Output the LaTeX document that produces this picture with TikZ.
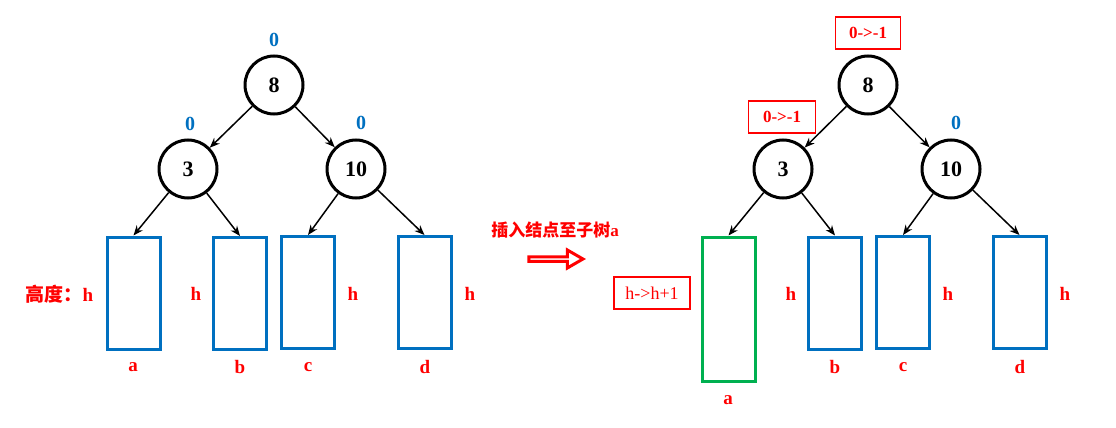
\documentclass[tikz,border=0pt]{standalone}
\usepackage{fontspec}
\setmainfont{Liberation Serif}
\newfontfamily\cjk{Noto Sans CJK SC}
\usepackage{xcolor}
\usetikzlibrary{arrows.meta,shapes.arrows}
\definecolor{boxblue}{HTML}{0070C0}
\definecolor{boxgreen}{HTML}{00B050}

\begin{document}
\begin{tikzpicture}[x=1pt,y=-1pt,%
% common options for the tree nodes:
ball/.style = {circle, draw, line width=3pt, minimum size=58pt, inner sep=0,
            font=\fontsize{22}{24}\selectfont\bfseries},
% common options for the subtrees:
block/.style = {draw=boxblue, line width=3pt, minimum width=53pt,
            minimum height=112pt, inner sep=0},
% labels:
bal/.style = {text=boxblue, font=\fontsize{20}{22}\selectfont\bfseries},
hgt/.style = {text=red, font=\fontsize{19}{21}\selectfont\bfseries},
tag/.style = {draw=red, line width=1.2pt, text=red, inner sep=0,
            minimum height=32pt, font=\fontsize{17}{19}\selectfont\bfseries},
link/.style = {-{Stealth[length=10pt,width=8pt]}, line width=1.5pt}]
\useasboundingbox (0,0) rectangle (1116,428);

% left tree
\node[ball] (L8) at (274,85) {8};
\node[ball] (L3) at (188,169) {3};
\node[ball] (L10) at (356,169) {10};
\node[bal] (L8b) at (274,40) {0};
\node[bal] (L3b) at (190,124) {0};
\node[bal] (L10b) at (361,123) {0};

\node[block] (La) at (133.5,293) {};
\node[block] (Lb) at (240,293.5) {};
\node[block] (Lc) at (308,292.5) {};
\node[block] (Ld) at (424.5,292.5) {};

\node[hgt, anchor=west] (Lah) at (22,294) {{\cjk 高度：}h};
\node[hgt] (Lbh) at (196,294) {h};
\node[hgt] (Lch) at (353,294) {h};
\node[hgt] (Ldh) at (470,294) {h};
\node[hgt] (Lan) at (133,367) {a};
\node[hgt] (Lbn) at (240,367) {b};
\node[hgt] (Lcn) at (308,367) {c};
\node[hgt] (Ldn) at (425,367) {d};

\draw[link] (L8) to (L3);
\draw[link] (L8) to (L10);
\draw[link] (L3) to (La.north);
\draw[link] (L3) to (Lb.north);
\draw[link] (L10) to (Lc.north);
\draw[link] (L10) to (Ld.north);

% middle
\node[text=red, font=\fontsize{17}{19}\selectfont\bfseries] (ins) at (555,230)
    {{\cjk 插入结点至子树}a};
\node[single arrow, draw=red, line width=3pt, minimum width=18pt,
    single arrow head extend=4.5pt, single arrow tip angle=60,
    minimum height=54pt, inner sep=0] (go) at (554,259) {};

% right tree
\node[ball] (R8) at (868,85) {8};
\node[ball] (R3) at (783,169) {3};
\node[ball] (R10) at (951,169) {10};
\node[tag, minimum width=65pt] (R8b) at (868,33) {0->-1};
\node[tag, minimum width=67pt] (R3b) at (782,117) {0->-1};
\node[bal] (R10b) at (956,123) {0};

\node[block, draw=boxgreen, minimum height=144pt] (Ra) at (728.5,309) {};
\node[block] (Rb) at (835,293) {};
\node[block] (Rc) at (903,292.5) {};
\node[block] (Rd) at (1019.5,292.5) {};

\node[tag, minimum width=76pt, font=\fontsize{18}{20}\selectfont] (Rah) at (652,293) {h->h+1};
\node[hgt] (Rbh) at (791,294) {h};
\node[hgt] (Rch) at (948,294) {h};
\node[hgt] (Rdh) at (1065,294) {h};
\node[hgt] (Ran) at (728,400) {a};
\node[hgt] (Rbn) at (835,367) {b};
\node[hgt] (Rcn) at (903,367) {c};
\node[hgt] (Rdn) at (1020,367) {d};

\draw[link] (R8) to (R3);
\draw[link] (R8) to (R10);
\draw[link] (R3) to (Ra.north);
\draw[link] (R3) to (Rb.north);
\draw[link] (R10) to (Rc.north);
\draw[link] (R10) to (Rd.north);
\end{tikzpicture}
\end{document}
